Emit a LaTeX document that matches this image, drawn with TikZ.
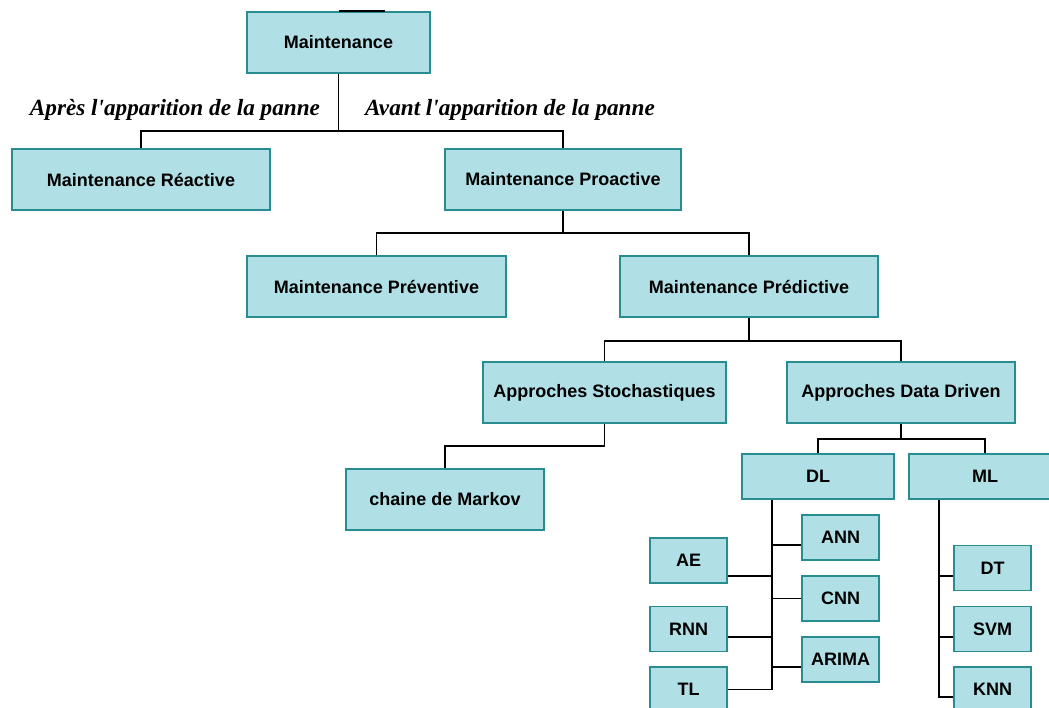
\documentclass[tikz,border=0pt]{standalone}
\usepackage{fontspec}
\setmainfont{Liberation Sans}
\newfontfamily\notefont{Liberation Serif}
\usetikzlibrary{positioning, calc}
\definecolor{boxfill}{RGB}{176,224,230}
\definecolor{boxline}{RGB}{40,140,145}
\tikzset{
  box/.style   = {draw=boxline, fill=boxfill, line width=0.8pt, inner sep=0pt,
                  minimum height=30.5pt, font=\bfseries\fontsize{9}{11}\selectfont},
  leaf/.style  = {box, minimum width=38.5pt, minimum height=22.5pt},
  link/.style  = {draw=black, line width=0.8pt},
  note/.style  = {font=\notefont\bfseries\itshape\fontsize{11.6}{13}\selectfont},
}
\begin{document}
\begin{tikzpicture}[x=0.5pt, y=-0.5pt]
  \useasboundingbox (0,0) rectangle (1049,707);
  % main levels
  \node[box, minimum width=91.5pt]  (maint)      at (338.5,42.5)  {Maintenance};
  \node[box, minimum width=129pt]   (reactive)   at (141,179.5)   {Maintenance Réactive};
  \node[box, minimum width=118pt]   (proactive)  at (563,179.5)   {Maintenance Proactive};
  \node[box, minimum width=129.5pt] (preventive) at (376.5,286.5) {Maintenance Préventive};
  \node[box, minimum width=129pt]   (predictive) at (749,286.5)   {Maintenance Prédictive};
  \node[box, minimum width=121.5pt] (stoch)      at (604.5,392.5) {Approches Stochastiques};
  \node[box, minimum width=114pt]   (datadriven) at (901,392.5)   {Approches Data Driven};
  \node[box, minimum width=99pt]    (markov)     at (445,499.5)   {chaine de Markov};
  \node[box, minimum width=76pt, minimum height=22.5pt] (dl) at (818,476.5) {DL};
  \node[box, minimum width=76pt, minimum height=22.5pt] (ml) at (985,476.5) {ML};
  % leaves
  \foreach \name/\x/\y in {AE/688.5/560.5, RNN/688.5/629, TL/688.5/689.5,
                           ANN/840.5/537.5, CNN/840.5/598.5, ARIMA/840.5/659.5,
                           DT/992.5/568, SVM/992.5/629, KNN/992.5/689.5} {
    \node[leaf] (\name) at (\x,\y) {\name};
  }
  % labels
  \node[note] (after)  at (175,110) {Après l'apparition de la panne};
  \node[note] (before) at (510,110) {Avant l'apparition de la panne};
  % connectors
  \draw[link, line width=1pt] (maint.north) -- ++(46,0);
  \draw[link] (maint.south) -- ++(0,57) -| (reactive.north);
  \draw[link] (maint.south) -- ++(0,57) -| (proactive.north);
  \draw[link] (proactive.south) -- ++(0,22) -| (preventive.north);
  \draw[link] (proactive.south) -- ++(0,22) -| (predictive.north);
  \draw[link] (predictive.south) -- ++(0,23) -| (stoch.north);
  \draw[link] (predictive.south) -- ++(0,23) -| (datadriven.north);
  \draw[link] (stoch.south) -- ++(0,22) -| (markov.north);
  \draw[link] (datadriven.south) -- ++(0,15) -| (dl.north);
  \draw[link] (datadriven.south) -- ++(0,15) -| (ml.north);
  \coordinate (dltrunk) at ([xshift=-23pt]dl.south);
  \coordinate (mltrunk) at ([xshift=-23pt]ml.south);
  \foreach \name/\dy in {AE/-7.75pt, RNN/-4pt, TL/0pt} {
    \draw[link] ([yshift=\dy]\name.east) -| (dltrunk);
  }
  \foreach \name/\dy in {ANN/-3.75pt, CNN/0pt, ARIMA/-3.75pt} {
    \draw[link] ([yshift=\dy]\name.west) -| (dltrunk);
  }
  \foreach \name/\dy in {DT/-4pt, SVM/-4pt, KNN/-3.75pt} {
    \draw[link] ([yshift=\dy]\name.west) -| (mltrunk);
  }
\end{tikzpicture}
\end{document}
